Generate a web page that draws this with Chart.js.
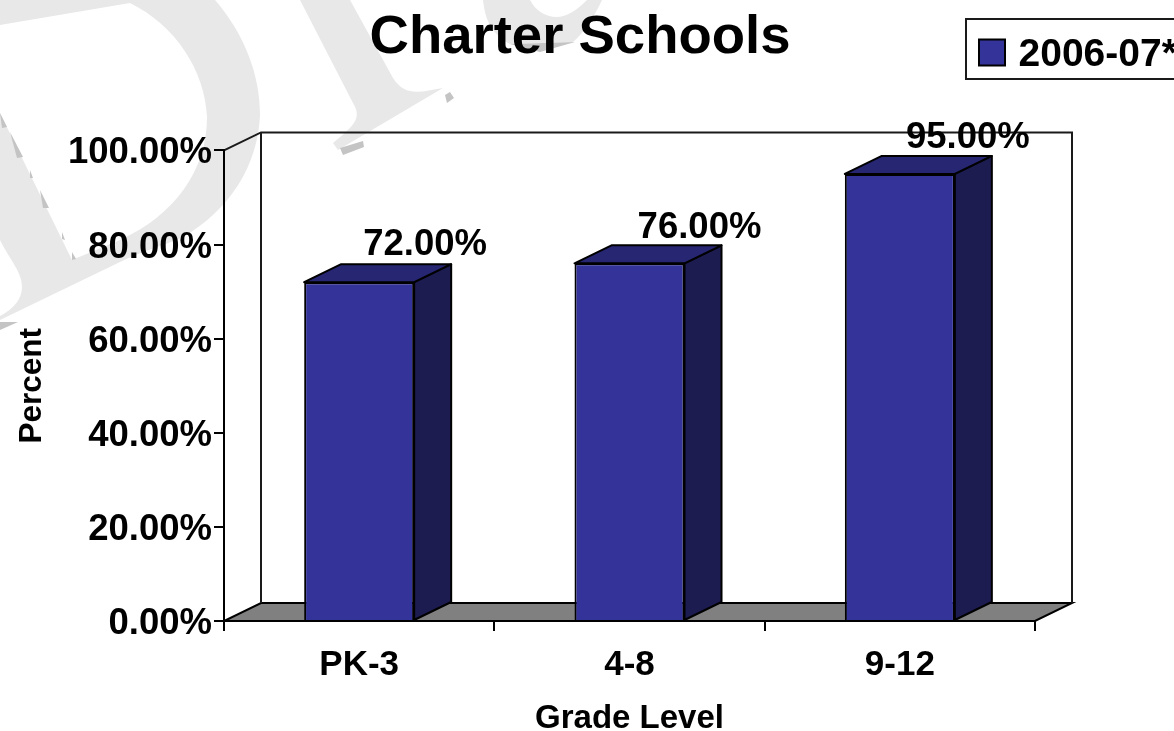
<!DOCTYPE html>
<html lang="en">

<head>
    <meta charset="UTF-8">
    <script src="https://cdn.jsdelivr.net/npm/chart.js@4/dist/chart.umd.js"></script>
    <title>Charter Schools</title>
    <style>
        html, body { margin: 0; padding: 0; background: #fff; overflow: hidden; }
        canvas { display: block; }
    </style>
</head>

<body>
    <canvas id="chart" width="1174" height="731"></canvas>
    <script>
        const grades = ['PK-3', '4-8', '9-12'];
        const percents = [72, 76, 95];
        const seriesName = '2006-07*';
        const titleText = 'Charter Schools';
        const xTitle = 'Grade Level';
        const yTitle = 'Percent';

        const depthX = 37;
        const depthY = -18;
        const barColor = '#333399';
        const fontName = '"Liberation Sans", Arial, sans-serif';

        function poly(ctx, pts, fill, stroke, lw) {
            ctx.beginPath();
            pts.forEach((p, i) => i ? ctx.lineTo(p[0], p[1]) : ctx.moveTo(p[0], p[1]));
            ctx.closePath();
            if (fill) { ctx.fillStyle = fill; ctx.fill(); }
            if (stroke) { ctx.strokeStyle = stroke; ctx.lineWidth = lw || 2; ctx.stroke(); }
        }

        // grey letter shapes behind the chart
        function drawWatermark(ctx) {
            ctx.save();
            ctx.fillStyle = '#e8e8e8';
            ctx.beginPath();
            ctx.moveTo(0, 0);
            ctx.lineTo(215, 0);
            ctx.bezierCurveTo(245, 35, 260, 75, 260, 115);
            ctx.bezierCurveTo(258, 165, 230, 210, 183, 237);
            ctx.bezierCurveTo(165, 245, 140, 252, 120, 262);
            ctx.lineTo(0, 320);
            ctx.lineTo(0, 316);
            ctx.bezierCurveTo(15, 308, 22, 298, 22, 287);
            ctx.bezierCurveTo(22, 272, 10, 260, 0, 240);
            ctx.lineTo(0, 113);
            ctx.lineTo(72, 260);
            ctx.lineTo(120, 240);
            ctx.bezierCurveTo(175, 215, 207, 170, 207, 117);
            ctx.bezierCurveTo(205, 70, 175, 25, 130, 3);
            ctx.lineTo(0, 25);
            ctx.closePath();
            ctx.fill();
            ctx.beginPath();
            ctx.moveTo(300, 0);
            ctx.lineTo(353, 103);
            ctx.bezierCurveTo(362, 118, 355, 125, 333, 143);
            ctx.lineTo(338, 150);
            ctx.lineTo(443, 88);
            ctx.bezierCurveTo(420, 92, 405, 97, 393, 78);
            ctx.lineTo(350, 0);
            ctx.closePath();
            ctx.fill();
            ctx.beginPath();
            ctx.moveTo(483, 0);
            ctx.bezierCurveTo(485, 18, 490, 33, 510, 44);
            ctx.lineTo(573, 42);
            ctx.bezierCurveTo(585, 32, 595, 15, 602, 0);
            ctx.lineTo(587, 0);
            ctx.bezierCurveTo(575, 12, 565, 17, 557, 17);
            ctx.bezierCurveTo(545, 17, 535, 10, 530, 0);
            ctx.closePath();
            ctx.fill();
            const spots = [
                [[340, 148], [363, 141], [364, 147], [343, 155]],
                [[445, 95], [450, 92], [454, 98], [447, 103]],
                [[510, 44], [575, 42], [540, 52]],
                [[0, 113], [7, 127], [2, 128]],
                [[10, 132], [23, 157], [17, 158]],
                [[30, 170], [33, 178], [30, 178]],
                [[40, 190], [49, 208], [43, 208]],
                [[62, 232], [65, 240], [62, 239]],
                [[72, 252], [76, 259], [72, 260]],
                [[0, 322], [18, 322], [0, 330]]
            ];
            spots.forEach(s => poly(ctx, s, '#c4c4c4'));
            ctx.restore();
        }

        const scenePlugin = {
            id: 'scene',
            afterLayout(chart) {
                const legend = chart.legend;
                legend.left = 1018 - 39 - 10;
                legend.right = 1400;
                legend.top = 26;
                legend.bottom = 80;
                const t = chart.titleBlock;
                t.left = 0;
                t.right = 1160;
                t.top = 5;
            },
            beforeDraw(chart) {
                const ctx = chart.ctx;
                const a = chart.chartArea;
                ctx.save();
                ctx.fillStyle = '#fff';
                ctx.fillRect(0, 0, chart.width, chart.height);
                drawWatermark(ctx);
                // floor and back wall
                poly(ctx, [[a.left, a.bottom], [a.right, a.bottom], [a.right + depthX, a.bottom + depthY], [a.left + depthX, a.bottom + depthY]], '#808080', '#000', 2);
                ctx.strokeStyle = '#1a1a1a';
                ctx.lineWidth = 2;
                ctx.beginPath();
                ctx.moveTo(a.left, a.top);
                ctx.lineTo(a.left + depthX, a.top + depthY);
                ctx.lineTo(a.right + depthX, a.top + depthY);
                ctx.lineTo(a.right + depthX, a.bottom + depthY);
                ctx.moveTo(a.left + depthX, a.top + depthY);
                ctx.lineTo(a.left + depthX, a.bottom + depthY);
                ctx.stroke();
                // legend frame and swatch
                ctx.strokeRect(966, 19, 300, 60);
                ctx.fillStyle = barColor;
                ctx.fillRect(979, 39.5, 26, 26);
                ctx.strokeStyle = '#000';
                ctx.strokeRect(979, 39.5, 26, 26);
                ctx.restore();
            },
            beforeDatasetsDraw(chart) {
                const ctx = chart.ctx;
                ctx.save();
                ctx.lineJoin = 'round';
                chart.getDatasetMeta(0).data.forEach(bar => {
                    const l = bar.x - bar.width / 2;
                    const r = bar.x + bar.width / 2;
                    poly(ctx, [[r, bar.y], [r + depthX, bar.y + depthY], [r + depthX, bar.base + depthY], [r, bar.base]], '#1c1c50', '#000', 2);
                    poly(ctx, [[l, bar.y], [l + depthX, bar.y + depthY], [r + depthX, bar.y + depthY], [r, bar.y]], '#262673', '#000', 2);
                });
                ctx.restore();
            },
            afterDatasetsDraw(chart) {
                const ctx = chart.ctx;
                // the labels don't sit at the same spot over each bar in the original
                const shiftX = [66, 70, 68];
                const shiftY = [-37, -35, -36];
                ctx.save();
                ctx.font = 'bold 36.5px ' + fontName;
                ctx.fillStyle = '#000';
                ctx.textAlign = 'center';
                ctx.textBaseline = 'middle';
                chart.getDatasetMeta(0).data.forEach((bar, i) => {
                    ctx.fillText(percents[i].toFixed(2) + '%', bar.x + shiftX[i], bar.y + shiftY[i]);
                });
                ctx.restore();
            }
        };

        // nudge y tick labels down a little, the library has no option for it
        function nudgeLabels(s) {
            if (s._nudged) return;
            s._nudged = true;
            const orig = s._computeLabelItems;
            s._computeLabelItems = function (area) {
                const items = orig.call(this, area);
                items.forEach(it => { it.options.translation[1] += 3; });
                return items;
            };
        }

        new Chart(document.getElementById('chart'), {
            type: 'bar',
            data: {
                labels: grades,
                datasets: [{
                    label: seriesName,
                    data: percents,
                    backgroundColor: barColor,
                    borderColor: '#000',
                    borderWidth: 2,
                    barPercentage: 0.407,
                    categoryPercentage: 1
                }]
            },
            options: {
                responsive: false,
                animation: false,
                layout: { padding: { left: 0, right: 139, top: 26, bottom: 0 } },
                plugins: {
                    title: {
                        display: true,
                        text: titleText,
                        color: '#000',
                        padding: 0,
                        font: { family: fontName, size: 54.5, weight: 'bold', lineHeight: 1.2 }
                    },
                    legend: {
                        display: true,
                        align: 'start',
                        labels: {
                            color: '#000',
                            boxWidth: 20,
                            boxHeight: 20,
                            font: { family: fontName, size: 39, weight: 'bold' },
                            generateLabels: chart => [{
                                text: chart.data.datasets[0].label,
                                fillStyle: 'rgba(0,0,0,0)',
                                strokeStyle: 'rgba(0,0,0,0)',
                                lineWidth: 0,
                                fontColor: '#000',
                                datasetIndex: 0
                            }]
                        }
                    },
                    tooltip: { enabled: false }
                },
                scales: {
                    x: {
                        afterFit(s) { s.height = 110; },
                        border: { color: '#000', width: 2 },
                        grid: { drawOnChartArea: false, color: '#000', lineWidth: 2, tickLength: 10, offset: true },
                        ticks: { color: '#000', padding: 13, maxRotation: 0, font: { family: fontName, size: 35, weight: 'bold' } },
                        title: { display: true, text: xTitle, color: '#000', padding: { top: 14, bottom: -8 }, font: { family: fontName, size: 33, weight: 'bold' } }
                    },
                    y: {
                        min: 0,
                        max: 100,
                        afterFit(s) { s.width = 224; nudgeLabels(s); },
                        border: { color: '#000', width: 2 },
                        grid: { drawOnChartArea: false, color: '#000', lineWidth: 2, tickLength: 10 },
                        ticks: {
                            color: '#000',
                            padding: 2,
                            stepSize: 20,
                            callback: v => v.toFixed(2) + '%',
                            font: { family: fontName, size: 36.5, weight: 'bold' }
                        },
                        title: { display: true, text: yTitle, color: '#000', padding: { top: 13, bottom: 0 }, font: { family: fontName, size: 31.5, weight: 'bold' } }
                    }
                }
            },
            plugins: [scenePlugin]
        });
    </script>

</body>

</html>
